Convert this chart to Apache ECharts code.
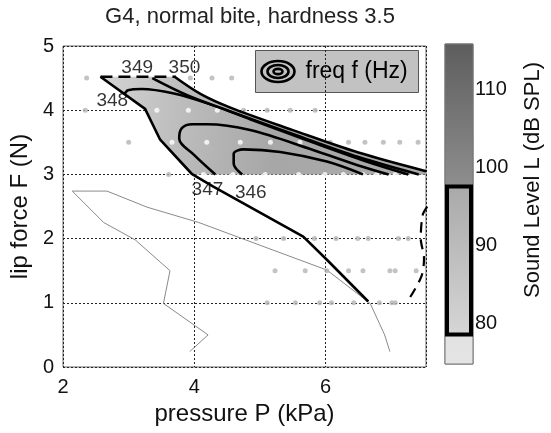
<!DOCTYPE html>
<html><head><meta charset="utf-8">
<script src="https://cdn.jsdelivr.net/npm/echarts@6/dist/echarts.min.js"></script>
<style>html,body{margin:0;padding:0;background:#fff}#c{width:551px;height:433px}</style>
</head><body><div id="c"></div>
<script>
const titleText = 'G4, normal bite, hardness 3.5';
const xName = 'pressure P (kPa)';
const yName = 'lip force F (N)';
const cbName = 'Sound Level L (dB SPL)';
const legendText = 'freq f (Hz)';
const xTicks = [2, 4, 6];
const yTicks = [0, 1, 2, 3, 4, 5];
const cbTicks = [80, 90, 100, 110];

// measurement points (gray = outside oscillation region, white = inside)
const grayDots = [
  [2.36,4.5],[3.94,4.5],[4.27,4.5],[4.57,4.5],
  [2.34,4],[4.75,4],[5.11,4],[5.46,4],[5.84,4],
  [3.0,3.5],[6.07,3.5],[6.35,3.5],[6.60,3.5],[6.88,3.5],[7.13,3.5],[7.41,3.5],
  [3.61,3],
  [4.94,2],[5.36,2],[5.83,2],[6.16,2],[6.49,2],[6.65,2],[7.11,2],[7.26,2],
  [5.23,1.5],[5.69,1.5],[6.02,1.5],[6.35,1.5],[6.57,1.5],[6.98,1.5],[7.06,1.5],[7.38,1.5],
  [5.11,1],[5.54,1],[5.91,1],[6.09,1],[6.43,1],[6.82,1],[7.01,1],[7.06,1]
];
const whiteDots = [
  [3.43,4],[3.91,4],[4.35,4],
  [3.66,3.5],[4.19,3.5],[4.70,3.5],[5.16,3.5],[5.61,3.5],
  [4.14,3],[4.59,3],[5.08,3],[5.59,3],[5.99,3],[6.27,3],[6.57,3],[6.78,3],[7.06,3],[7.33,3]
];
// filled sound-level region outline
const regionOutline = [
  [2.57,4.52],[3.70,4.52],[4.1,4.25],[4.55,4.03],[5.5,3.68],[6.5,3.33],[7.53,3.04],
  [7.53,3.0],[3.96,3.0],[3.48,3.54],[3.25,4.02]
];
const boundaryLine = [[2.57,4.52],[3.25,4.02],[3.48,3.54],[3.96,3.01],[4.29,2.81],[5.66,2.03],[6.02,1.67],[6.65,1.02]];
const topDashed = [[2.57,4.52],[3.72,4.52]];
const c350 = [[3.70,4.52],[4.1,4.25],[4.55,4.04],[5.5,3.69],[6.5,3.34],[7.53,3.05]];
const c349 = [[3.36,4.50],[3.9,4.23],[4.5,4.0],[5.5,3.63],[6.5,3.27],[7.42,3.0]];
const c348 = [[2.93,4.24],[2.99,4.31],[3.2,4.33],[3.69,4.26],[4.19,4.11],[4.85,3.86],[5.8,3.5],[6.6,3.21],[7.26,3.0]];
const c347 = [[4.32,3.0],[4.0,3.3],[3.77,3.56],[3.81,3.72],[3.97,3.78],[4.19,3.78],[4.85,3.69],[5.81,3.38],[6.5,3.14],[6.96,3.0]];
const c346 = [[4.73,3.0],[4.6,3.17],[4.60,3.32],[4.75,3.39],[5.31,3.35],[6.02,3.2],[6.57,3.0]];
const contourLabels = [[3.13,4.66,'349'],[3.85,4.66,'350'],[2.75,4.14,'348'],[4.2,2.76,'347'],[4.86,2.72,'346']];
const grayPath = [[3.93,0.24],[4.21,0.5],[3.53,0.99],[3.63,1.5],[3.10,1.98],[2.62,2.25],[2.14,2.74],[2.67,2.74],[3.28,2.49],[4.07,2.25],[6.02,1.51],[6.68,0.99],[6.90,0.50],[6.98,0.24]];
const dashedCurve = [[7.29,1.09],[7.46,1.41],[7.50,1.69],[7.45,2.0],[7.48,2.37],[7.55,2.5]];
// colorbar
const cbMin = 74.8, cbMax = 115.9;
const cbLevels = [116, 97.6, 97.6, 78.6, 78.6, 74.8];
const cbColors = ['#5d5d5d', '#8e8e8e', '#a9a9a9', '#d6d6d6', '#e2e2e2', '#e4e4e4'];
const cbBox = [78.6, 97.6];

const FONT = 'Liberation Sans, Arial, Helvetica, sans-serif';
const chart = echarts.init(document.getElementById('c'), null, {renderer: 'canvas'});

function contour(data) {
  return {type: 'line', data: data, symbol: 'none', smooth: 0.35, z: 4,
    lineStyle: {color: '#000', width: 2.6}, silent: true};
}

const option = {
  animation: false,
  backgroundColor: '#fff',
  title: {text: titleText, left: 245, top: 1, textAlign: 'center',
    textStyle: {fontFamily: FONT, fontSize: 22, fontWeight: 'normal', color: '#222'}},
  grid: [
    {left: 63, top: 46, width: 363, height: 321, show: true, borderColor: '#666', borderWidth: 1, backgroundColor: 'transparent'},
    {left: 445, top: 44, width: 28, height: 320, show: true, borderColor: '#777', borderWidth: 1}
  ],
  xAxis: [
    {type: 'value', gridIndex: 0, min: 2, max: 7.53, interval: 2,
      name: xName, nameLocation: 'middle', nameGap: 33,
      nameTextStyle: {fontFamily: FONT, fontSize: 24, color: '#111'},
      axisLine: {show: false}, axisTick: {show: false},
      axisLabel: {customValues: xTicks, fontFamily: FONT, fontSize: 20, color: '#111', margin: 10},
      splitLine: {show: true, lineStyle: {color: '#222', width: 1, type: [2, 2]}}},
    {type: 'value', gridIndex: 1, min: 0, max: 1, show: false}
  ],
  yAxis: [
    {type: 'value', gridIndex: 0, min: 0, max: 5, interval: 1,
      name: yName, nameLocation: 'middle', nameGap: 31,
      nameTextStyle: {fontFamily: FONT, fontSize: 24, color: '#111'},
      axisLine: {show: false}, axisTick: {show: false},
      axisLabel: {customValues: yTicks, fontFamily: FONT, fontSize: 20, color: '#111', margin: 9},
      splitLine: {show: true, lineStyle: {color: '#222', width: 1, type: [2, 2]}}},
    {type: 'value', gridIndex: 1, min: cbMin, max: cbMax, position: 'right',
      axisLine: {show: false}, axisTick: {show: false}, splitLine: {show: false},
      axisLabel: {customValues: cbTicks, fontFamily: FONT, fontSize: 20, color: '#111', margin: 2}}
  ],
  series: [
    {type: 'custom', xAxisIndex: 0, yAxisIndex: 0, clip: true, z: 1, silent: true,
      data: regionOutline,
      renderItem: function (params, api) {
        if (params.dataIndex !== 0) return null;
        const pts = regionOutline.map(p => api.coord(p));
        return {type: 'polygon', shape: {points: pts},
          style: {fill: {type: 'linear', x: 0, y: 0, x2: 1, y2: 0.4, colorStops: [
            {offset: 0, color: '#d4d4d4'}, {offset: 0.25, color: '#bdbdbd'},
            {offset: 0.55, color: '#a7a7a7'}, {offset: 1, color: '#ababab'}]}}};
      }},
    {type: 'line', data: grayPath, symbol: 'none', z: 3, silent: true,
      lineStyle: {color: '#8a8a8a', width: 1}},
    {type: 'scatter', data: grayDots, symbolSize: 5, z: 3, silent: true,
      itemStyle: {color: '#b4b4b4'}},
    {type: 'scatter', data: whiteDots, symbolSize: 5, z: 3, silent: true,
      itemStyle: {color: '#ffffff'}},
    {type: 'line', data: boundaryLine, symbol: 'none', z: 4, silent: true,
      lineStyle: {color: '#000', width: 2.6}},
    {type: 'line', data: topDashed, symbol: 'none', z: 4, silent: true,
      lineStyle: {color: '#000', width: 2.6, type: [12, 6]}},
    contour(c350), contour(c349), contour(c348), contour(c347), contour(c346),
    {type: 'line', data: dashedCurve, symbol: 'none', smooth: 0.3, z: 4, silent: true, clip: true,
      lineStyle: {color: '#000', width: 2.2, type: [10, 7]}},
    {type: 'scatter', data: contourLabels, symbolSize: 0, z: 5, silent: true,
      label: {show: true, position: 'inside', formatter: p => p.value[2],
        fontFamily: FONT, fontSize: 19, color: '#000', textBorderWidth: 0}},
    {type: 'custom', xAxisIndex: 1, yAxisIndex: 1, silent: true, z: 2,
      data: [[0, cbMin]],
      renderItem: function (params, api) {
        const tl = api.coord([0, cbMax]);
        const br = api.coord([1, cbMin]);
        const range = cbMax - cbMin;
        const stops = cbLevels.map((v, i) => ({offset: Math.min(1, Math.max(0, (cbMax - v) / range)), color: cbColors[i]}));
        const bt = api.coord([0, cbBox[1]]);
        const bb = api.coord([1, cbBox[0]]);
        return {type: 'group', children: [
          {type: 'rect', shape: {x: tl[0], y: tl[1], width: br[0] - tl[0], height: br[1] - tl[1]},
            style: {fill: {type: 'linear', x: 0, y: 0, x2: 0, y2: 1, colorStops: stops}, stroke: '#777', lineWidth: 1}},
          {type: 'rect', shape: {x: bt[0] + 2, y: bt[1], width: bb[0] - bt[0] - 4, height: bb[1] - bt[1]},
            style: {fill: 'none', stroke: '#000', lineWidth: 4}}
        ]};
      }}
  ],
  graphic: [
    {type: 'group', left: 255, top: 50, z: 10, children: [
      {type: 'rect', shape: {x: 0, y: 0, width: 163, height: 42},
        style: {fill: '#c2c2c2', stroke: '#555', lineWidth: 1}},
      {type: 'ellipse', shape: {cx: 22.5, cy: 21, rx: 16.5, ry: 10.5}, style: {fill: 'none', stroke: '#000', lineWidth: 2.6}},
      {type: 'ellipse', shape: {cx: 22.5, cy: 21, rx: 10.5, ry: 6.5}, style: {fill: 'none', stroke: '#000', lineWidth: 2.6}},
      {type: 'ellipse', shape: {cx: 22.5, cy: 21, rx: 4.5, ry: 2.6}, style: {fill: 'none', stroke: '#000', lineWidth: 2.6}},
      {type: 'text', x: 50, y: 21, style: {text: legendText, fontFamily: FONT, fontSize: 23, fill: '#000', verticalAlign: 'middle', align: 'left'}}
    ]},
    {type: 'text', x: 533, y: 180, rotation: Math.PI / 2, z: 10,
      style: {text: cbName, fontFamily: FONT, fontSize: 22, fill: '#111', align: 'center', verticalAlign: 'middle'}}
  ]
};
chart.setOption(option);
</script></body></html>
